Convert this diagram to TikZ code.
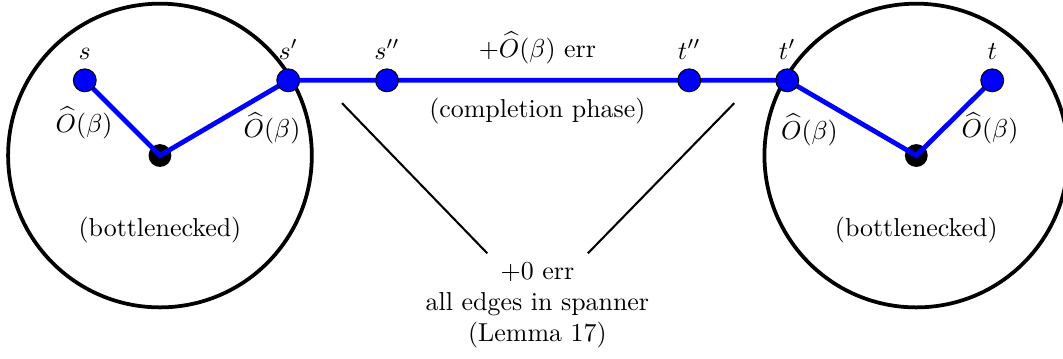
\documentclass[tikz,border=0pt]{standalone}
\usepackage{amsmath}
\usepackage{xcolor}
\usepackage{tikz}
\usetikzlibrary{positioning,backgrounds}

\begin{document}
\begin{tikzpicture}[
  vtx/.style={
    circle, inner sep=0pt, minimum size=0.31cm,
    draw=black, fill=blue, line width=0.4pt,
    label distance=0.17cm
  },
  hub/.style={
    circle, inner sep=0pt, minimum size=0.31cm,
    fill=black
  },
  region/.style={draw=black, line width=1.45pt},
  route/.style={draw=blue, line width=1.85pt},
  note/.style={line width=0.8pt, color=black},
  cost/.style={inner sep=1pt}
]
\useasboundingbox (0,0) rectangle (14.42,4.86);

\node[vtx, label=above:$s$] (s) at (1.15,3.77) {};
\node[vtx, label=above:$s'$] (sp) at (3.91,3.77) {};
\node[vtx, label=above:$s''$] (spp) at (5.25,3.77) {};
\node[vtx, label=above:$t''$] (tpp) at (9.35,3.77) {};
\node[vtx, label=above:$t'$] (tp) at (10.68,3.77) {};
\node[vtx, label=above:$t$] (t) at (13.46,3.77) {};

\begin{scope}[on background layer]
\draw[region] (2.17,2.75) circle (2.06cm);
\draw[region] (12.43,2.75) circle (2.06cm);
\node[hub] (hs) at (2.17,2.75) {};
\node[hub] (ht) at (12.43,2.75) {};
\draw[route] (s.center) -- (hs.center) -- (sp.center) -- (spp.center)
  -- (tpp.center) -- (tp.center) -- (ht.center) -- (t.center);
\end{scope}

\node[cost] (cs) at (1.14,3.19) {$\widehat{O}(\beta)$};
\node[cost] (csp) at (3.69,3.12) {$\widehat{O}(\beta)$};
\node[cost] (ctp) at (10.98,3.10) {$\widehat{O}(\beta)$};
\node[cost] (ct) at (13.43,3.12) {$\widehat{O}(\beta)$};

\node (bls) at (2.17,1.74) {(bottlenecked)};
\node (blt) at (12.43,1.74) {(bottlenecked)};

\node (err) at (7.29,4.21) {$+\widehat{O}(\beta)$ err};
\node (phase) at (7.29,3.36) {(completion phase)};

\node[align=center] (spanner) at (7.29,0.72) {$+0$ err\\all edges in spanner\\(Lemma 17)};
\coordinate (zl) at (4.64,3.46);
\coordinate (zr) at (9.96,3.46);
\draw[note] (zl) -- (spanner);
\draw[note] (zr) -- (spanner);
\end{tikzpicture}
\end{document}
